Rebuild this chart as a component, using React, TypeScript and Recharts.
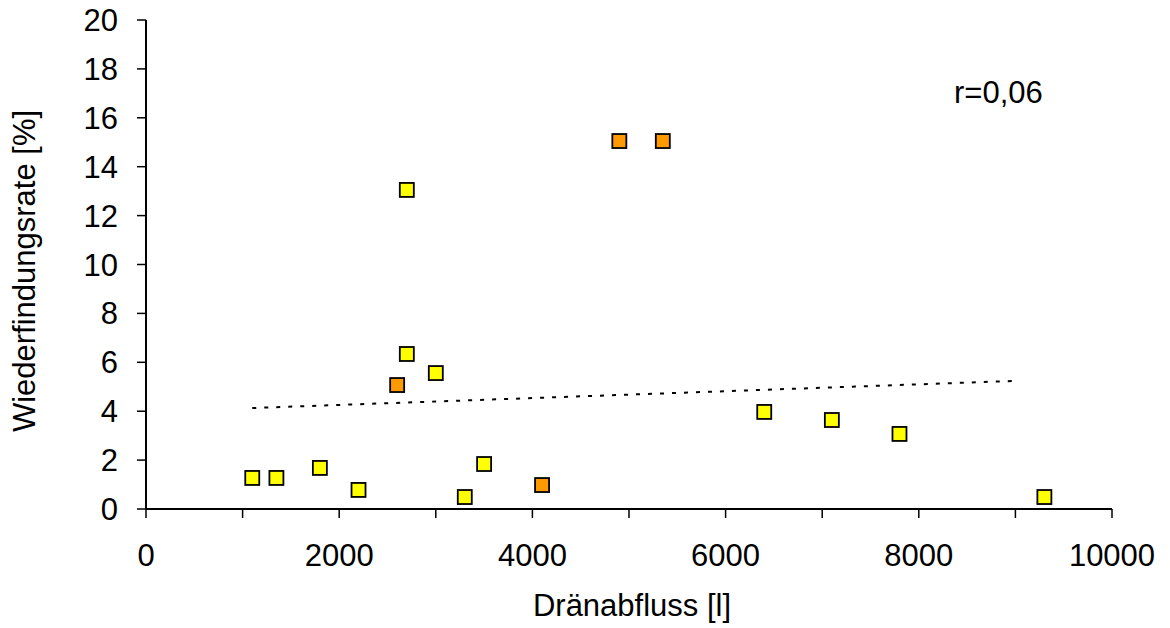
import React from "react";
import { ScatterChart, Scatter, XAxis, YAxis } from "recharts";

const FONT = '"Liberation Sans", Arial, sans-serif';

const xTicks = [0, 1000, 2000, 3000, 4000, 5000, 6000, 7000, 8000, 9000, 10000];
const yTicks = [0, 2, 4, 6, 8, 10, 12, 14, 16, 18, 20];

// gelbe Punkte
const yellowX = [1100, 1350, 1800, 2200, 2700, 2700, 3000, 3300, 3500, 6400, 7100, 7800, 9300];
const yellowY = [1.27, 1.27, 1.68, 0.78, 13.05, 6.34, 5.56, 0.49, 1.84, 3.97, 3.64, 3.07, 0.49];

// orange Punkte
const orangeX = [2600, 4100, 4900, 5350];
const orangeY = [5.07, 0.98, 15.05, 15.05];

// Trendlinie
const trendX = [1100, 9000];
const trendY = [4.13, 5.24];

const yellow = yellowX.map((x, i) => ({ x, y: yellowY[i] }));
const orange = orangeX.map((x, i) => ({ x, y: orangeY[i] }));
const trend = trendX.map((x, i) => ({ x, y: trendY[i] }));

function square(fill: string) {
  return (props: any) => {
    const { cx, cy } = props;
    if (cx == null || cy == null) return <g />;
    return <rect x={cx - 7} y={cy - 7} width={14} height={14} fill={fill} stroke="#000" strokeWidth={1.8} />;
  };
}

const tickStyle = { fontSize: 31, fill: "#000", fontFamily: FONT };

export default function App() {
  return (
    <div style={{ position: "absolute", left: 0, top: 0, width: 1170, height: 628, background: "#fff" }}>
      <ScatterChart width={1170} height={628} margin={{ top: 20, right: 58, bottom: 0, left: 0 }}>
        <XAxis
          type="number"
          dataKey="x"
          domain={[0, 10000]}
          ticks={xTicks}
          interval={0}
          tickFormatter={(v: number) => (v % 2000 === 0 ? String(v) : "")}
          height={119}
          tick={tickStyle}
          tickSize={9}
          tickMargin={26}
          axisLine={{ stroke: "#000", strokeWidth: 2 }}
          tickLine={{ stroke: "#000", strokeWidth: 1.5 }}
          label={{
            content: () => (
              <text x={632} y={616} textAnchor="middle" fontSize={31} fontFamily={FONT} fill="#000">
                Dränabfluss [l]
              </text>
            ),
          }}
        />
        <YAxis
          type="number"
          dataKey="y"
          domain={[0, 20]}
          ticks={yTicks}
          interval={0}
          width={146}
          tick={tickStyle}
          tickSize={9}
          tickMargin={19}
          axisLine={{ stroke: "#000", strokeWidth: 2 }}
          tickLine={{ stroke: "#000", strokeWidth: 1.5 }}
          label={{
            content: () => (
              <text
                transform="translate(35,271) rotate(-90)"
                textAnchor="middle"
                fontSize={31}
                fontFamily={FONT}
                fill="#000"
              >
                Wiederfindungsrate [%]
              </text>
            ),
          }}
        />
        <XAxis
          xAxisId="top"
          orientation="top"
          type="number"
          domain={[0, 10000]}
          height={0}
          tick={false}
          tickLine={false}
          axisLine={{ stroke: "#000", strokeWidth: 2 }}
        />
        <YAxis
          yAxisId="right"
          orientation="right"
          type="number"
          domain={[0, 20]}
          width={0}
          tick={false}
          tickLine={false}
          axisLine={{ stroke: "#000", strokeWidth: 2 }}
        />
        <Scatter
          data={trend}
          line={{ stroke: "#000", strokeWidth: 2, strokeDasharray: "4 8" }}
          shape={() => <g />}
          isAnimationActive={false}
        />
        <Scatter data={yellow} fill="#ffff00" shape={square("#ffff00")} isAnimationActive={false} />
        <Scatter data={orange} fill="#ff9900" shape={square("#ff9900")} isAnimationActive={false} />
      </ScatterChart>
      <svg width={1170} height={628} style={{ position: "absolute", left: 0, top: 0, pointerEvents: "none" }}>
        <text x={954} y={103} fontSize={31} fontFamily={FONT} fill="#000">
          r=0,06
        </text>
      </svg>
    </div>
  );
}
